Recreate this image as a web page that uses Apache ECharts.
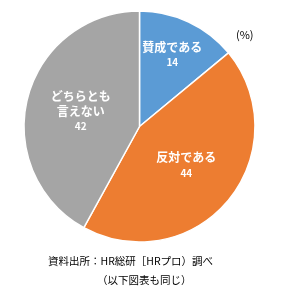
<!DOCTYPE html>
<html><head><meta charset="utf-8">
<script src="https://cdn.jsdelivr.net/npm/echarts@6/dist/echarts.min.js"></script>
<style>html,body{margin:0;padding:0;background:#fff}#c{width:282px;height:297px}</style>
</head><body><div id="c"></div>
<script>
const categories = ['賛成である', '反対である', 'どちらとも\n言えない'];
const values = [14, 44, 42];
const colors = ['#5B9BD5', '#ED7D31', '#A5A5A5'];
const unitLabel = '(%)';
const sourceLines = ['資料出所：HR総研［HRプロ）調べ', '（以下図表も同じ）'];

const font = '"Noto Sans CJK JP", sans-serif';
const chart = echarts.init(document.getElementById('c'));
const data = categories.map((c, i) => {
  const d = { name: c, value: values[i], itemStyle: { color: colors[i] } };
  if (i === 0) d.label = { padding: [0, 0, 34, 14] };
  return d;
});
chart.setOption({
  animation: false,
  title: [
    { text: unitLabel, left: 231, top: 24, textStyle: { fontSize: 11, fontWeight: 'normal', color: '#000', fontFamily: font } },
    { text: sourceLines[0], left: 43, top: 251, textStyle: { fontSize: 10.5, fontWeight: 'normal', color: '#000', fontFamily: font } },
    { text: sourceLines[1], left: 92, top: 270, textStyle: { fontSize: 10.5, fontWeight: 'normal', color: '#000', fontFamily: font } }
  ],
  series: [{
    type: 'pie',
    center: [139.5, 126.5],
    radius: [0, 115.5],
    startAngle: 90,
    clockwise: true,
    itemStyle: { borderColor: '#fff', borderWidth: 1.5 },
    label: {
      position: 'inside',
      fontFamily: font,
      formatter: p => p.name.split('\n').map(s => '{n|' + s + '}').join('\n') + '\n{v|' + p.value + '}',
      rich: {
        n: { fontSize: 12, fontWeight: 'bold', color: '#fff', fontFamily: font, lineHeight: 15 },
        v: { fontSize: 10, fontWeight: 'bold', color: '#fff', fontFamily: font, lineHeight: 15 }
      }
    },
    labelLine: { show: false },
    data: data
  }]
});
</script></body></html>
